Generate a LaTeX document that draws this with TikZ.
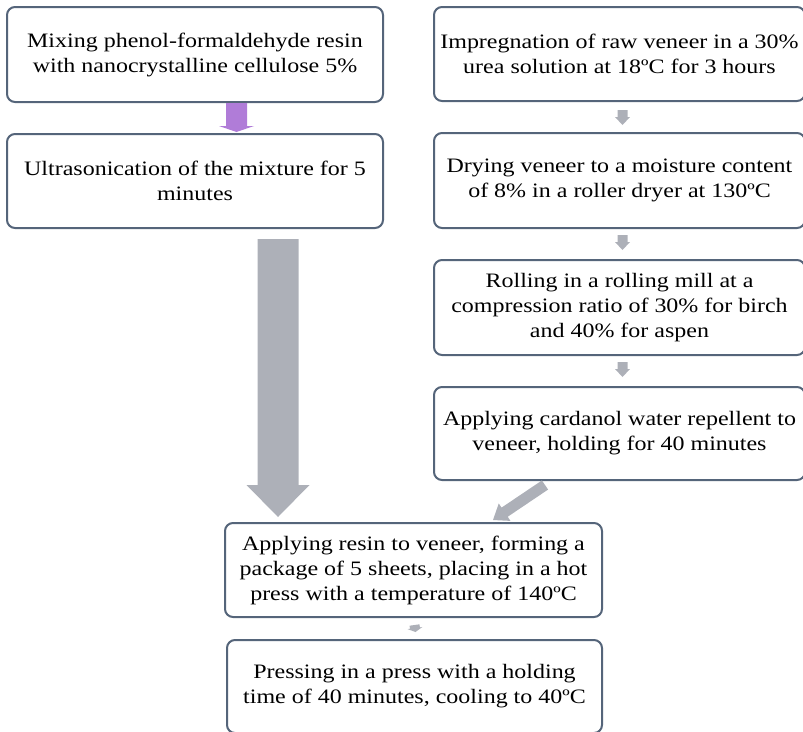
\documentclass[tikz,border=0pt]{standalone}
\usepackage{fontspec}
\setmainfont{Liberation Serif}[FakeStretch=1.17]
\usetikzlibrary{calc}
\definecolor{boxline}{HTML}{55657A}
\definecolor{arrgray}{HTML}{ADB0B8}
\definecolor{arrpurple}{HTML}{B07CD8}
\newcommand\blkarrow[6]{%
  \path ($(#2)!#5!(#1)$) coordinate (hbase);
  \fill[#6] ($(#1)!#3!90:(#2)$) -- ($(hbase)!#3!90:(#2)$) -- ($(hbase)!#4!90:(#2)$) -- (#2)
    -- ($(hbase)!#4!-90:(#2)$) -- ($(hbase)!#3!-90:(#2)$) -- ($(#1)!#3!-90:(#2)$) -- cycle;}
\tikzset{
  stepbox/.style={draw=boxline, line width=2pt, rounded corners=8pt, fill=white,
    align=center, inner sep=2pt, font=\fontsize{20.5}{25}\selectfont},
}
\begin{document}
\begin{tikzpicture}[x=1pt,y=-1pt]
\useasboundingbox (0,0) rectangle (803,731);
\node[stepbox, minimum width=376pt, minimum height=95pt] (A) at (195,54.5)
  {Mixing phenol-formaldehyde resin\\with nanocrystalline cellulose 5\%};
\node[stepbox, minimum width=376pt, minimum height=94pt] (B) at (195,181)
  {Ultrasonication of the mixture for 5\\minutes};
\node[stepbox, minimum width=371pt, minimum height=94pt] (C) at (619.5,54)
  {Impregnation of raw veneer in a 30\%\\urea solution at 18ºC for 3 hours};
\node[stepbox, minimum width=371pt, minimum height=95pt] (D) at (619.5,180.5)
  {Drying veneer to a moisture content\\of 8\% in a roller dryer at 130ºC};
\node[stepbox, minimum width=371pt, minimum height=95pt] (E) at (619.5,307.5)
  {Rolling in a rolling mill at a\\compression ratio of 30\% for birch\\and 40\% for aspen};
\node[stepbox, minimum width=371pt, minimum height=93pt] (F) at (619.5,433.5)
  {Applying cardanol water repellent to\\veneer, holding for 40 minutes};
\node[stepbox, minimum width=377pt, minimum height=94pt] (G) at (413.5,570)
  {Applying resin to veneer, forming a\\package of 5 sheets, placing in a hot\\press with a temperature of 140ºC};
\node[stepbox, minimum width=375pt, minimum height=93pt] (H) at (414.5,686.5)
  {Pressing in a press with a holding\\time of 40 minutes, cooling to 40ºC};
% connectors
\coordinate (ab1) at ([xshift=41.5pt]A.south);
\coordinate (ab2) at ([xshift=41.5pt,yshift=1pt]B.north);
\blkarrow{ab1}{ab2}{10.5pt}{17.5pt}{6pt}{arrpurple}
\coordinate (cd1) at ([xshift=3pt,yshift=-8pt]C.south);
\coordinate (cd2) at ([xshift=3pt,yshift=7pt]D.north);
\blkarrow{cd1}{cd2}{5pt}{7.5pt}{8pt}{arrgray}
\coordinate (de1) at ([xshift=3pt,yshift=-6pt]D.south);
\coordinate (de2) at ([xshift=3pt,yshift=9pt]E.north);
\blkarrow{de1}{de2}{5pt}{7.5pt}{8pt}{arrgray}
\coordinate (ef1) at ([xshift=3pt,yshift=-6pt]E.south);
\coordinate (ef2) at ([xshift=3pt,yshift=9pt]F.north);
\blkarrow{ef1}{ef2}{5pt}{7.5pt}{8pt}{arrgray}
\coordinate (fg1) at ([xshift=-74.5pt,yshift=-4pt]F.south);
\coordinate (fg2) at ([xshift=79.5pt,yshift=2pt]G.north);
\blkarrow{fg1}{fg2}{5.5pt}{10.5pt}{14pt}{arrgray}
\coordinate (bg1) at ([xshift=83pt,yshift=-10pt]B.south);
\coordinate (bg2) at ([xshift=-135.5pt,yshift=5pt]G.north);
\blkarrow{bg1}{bg2}{20.5pt}{31.5pt}{32pt}{arrgray}
\coordinate (gh1) at ([xshift=1pt,yshift=-7pt]G.south);
\coordinate (gh2) at ([xshift=1pt,yshift=7pt]H.north);
\blkarrow{gh1}{gh2}{5pt}{7.5pt}{4pt}{arrgray}
\end{tikzpicture}
\end{document}
